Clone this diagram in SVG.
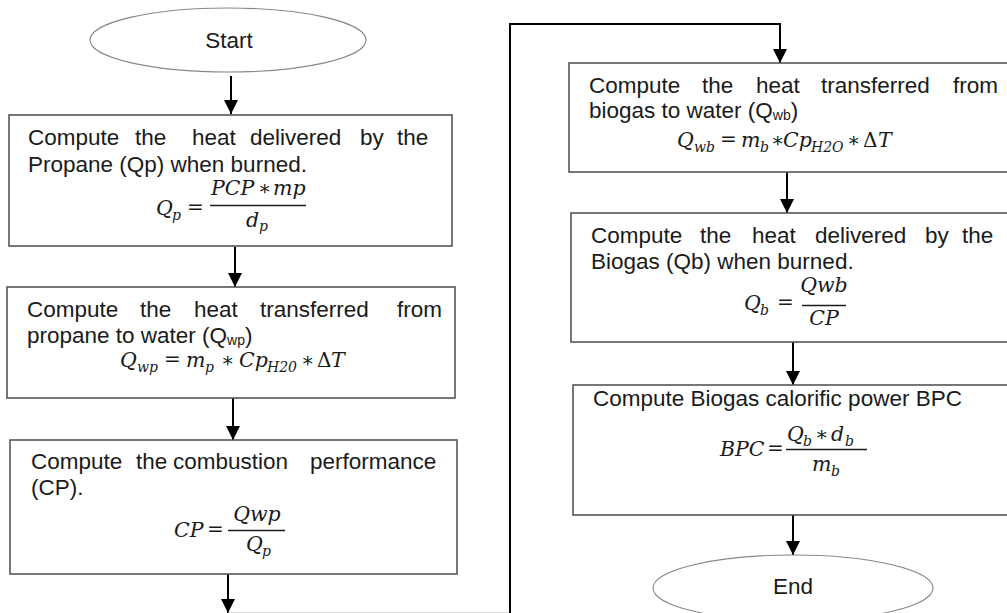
<svg xmlns="http://www.w3.org/2000/svg" width="1007" height="613" viewBox="0 0 1007 613">
<defs>
<marker id="ah" markerWidth="14" markerHeight="15" refX="14" refY="7" orient="auto" markerUnits="userSpaceOnUse">
<path d="M0,0 L14,7 L0,14 Z" fill="#000"/>
</marker>
<style>
.box{fill:#fff;stroke:#555;stroke-width:1.6}
.ell{fill:#fff;stroke:#888;stroke-width:1.1}
.t{font-family:"Liberation Sans",Arial,sans-serif;font-size:22.5px;fill:#1a1a1a}
.sub{font-size:14px}
.m{font-family:"DejaVu Serif","Liberation Serif",serif;font-style:italic;font-size:20.5px;fill:#1a1a1a}
.s{font-family:"DejaVu Serif","Liberation Serif",serif;font-style:italic;font-size:14px;fill:#1a1a1a}
.o{font-family:"DejaVu Serif","Liberation Serif",serif;font-style:normal;font-size:20px;fill:#1a1a1a}
.fl{stroke:#1a1a1a;stroke-width:1.3}
.c{fill:none;stroke:#000;stroke-width:2}
</style>
</defs>
<rect width="1007" height="613" fill="#fff"/>

<g id="connectors">
<path class="c" d="M231,76 V114" marker-end="url(#ah)"/>
<path class="c" d="M235,247 V287" marker-end="url(#ah)"/>
<path class="c" d="M233,398 V440" marker-end="url(#ah)"/>
<path class="c" d="M228,574 V613" marker-end="url(#ah)"/>
<path d="M228,613 H510" fill="none" stroke="#ccc" stroke-width="1.5"/>
<path class="c" d="M510,613 V24 H780 V63" marker-end="url(#ah)"/>
<path class="c" d="M787,172 V213" marker-end="url(#ah)"/>
<path class="c" d="M793,342 V385" marker-end="url(#ah)"/>
<path class="c" d="M793,515 V555" marker-end="url(#ah)"/>
</g>

<g id="start">
<ellipse class="ell" cx="228" cy="40" rx="138" ry="32"/>
<text class="t" x="229" y="48" text-anchor="middle">Start</text>
</g>

<g id="box1">
<rect class="box" x="9" y="115" width="443" height="131"/>
<text class="t" y="145"><tspan x="28">Compute</tspan><tspan x="135">the</tspan><tspan x="192">heat</tspan><tspan x="250">delivered</tspan><tspan x="360">by</tspan><tspan x="397">the</tspan></text>
<text class="t" x="28" y="172">Propane (Qp) when burned.</text>
<text class="m" x="156" y="215">Q</text><text class="s" x="172" y="220">p</text>
<text class="o" x="187" y="214">=</text>
<text class="m" x="211" y="195">PCP</text>
<text class="o" x="258" y="195">∗</text>
<text class="m" x="273" y="195">mp</text>
<line class="fl" x1="210" y1="205.5" x2="306" y2="205.5"/>
<text class="m" x="246" y="227">d</text><text class="s" x="259" y="231">p</text>
</g>

<g id="box2">
<rect class="box" x="7" y="287" width="448" height="111"/>
<text class="t" y="317"><tspan x="27">Compute</tspan><tspan x="140">the</tspan><tspan x="194">heat</tspan><tspan x="260">transferred</tspan><tspan x="397">from</tspan></text>
<text class="t" x="27" y="343">propane to water (Q<tspan class="sub" dy="2">wp</tspan><tspan dy="-2">)</tspan></text>
<text class="m" x="120" y="367">Q</text><text class="s" x="137" y="372">wp</text>
<text class="o" x="164" y="366">=</text>
<text class="m" x="186" y="367">m</text><text class="s" x="205" y="372">p</text>
<text class="o" x="221" y="367">∗</text>
<text class="m" x="239" y="367">Cp</text><text class="s" x="267" y="372">H20</text>
<text class="o" x="301" y="367">∗</text>
<text class="o" x="317" y="367">Δ</text><text class="m" x="331" y="367">T</text>
</g>

<g id="box3">
<rect class="box" x="10" y="440" width="447" height="134"/>
<text class="t" y="469"><tspan x="31">Compute</tspan><tspan x="136">the</tspan><tspan x="173">combustion</tspan><tspan x="310">performance</tspan></text>
<text class="t" x="31" y="495">(CP).</text>
<text class="m" x="174" y="537">CP</text>
<text class="o" x="207" y="536">=</text>
<text class="m" x="257" y="521" text-anchor="middle">Qwp</text>
<line class="fl" x1="228" y1="530.5" x2="285" y2="530.5"/>
<text class="m" x="246" y="551">Q</text><text class="s" x="262" y="556">p</text>
</g>

<g id="box4">
<rect class="box" x="569" y="63" width="445" height="109"/>
<text class="t" y="93"><tspan x="589">Compute</tspan><tspan x="702">the</tspan><tspan x="756">heat</tspan><tspan x="821">transferred</tspan><tspan x="953">from</tspan></text>
<text class="t" x="589" y="118">biogas to water (Q<tspan class="sub" dy="2">wb</tspan><tspan dy="-2">)</tspan></text>
<text class="m" x="677" y="147">Q</text><text class="s" x="694" y="152">wb</text>
<text class="o" x="720" y="146">=</text>
<text class="m" x="741" y="147">m</text><text class="s" x="760" y="152">b</text>
<text class="o" x="771" y="147">∗</text>
<text class="m" x="783" y="147">Cp</text><text class="s" x="811" y="152">H2O</text>
<text class="o" x="847" y="147">∗</text>
<text class="o" x="863" y="147">Δ</text><text class="m" x="878" y="147">T</text>
</g>

<g id="box5">
<rect class="box" x="571" y="213" width="445" height="129"/>
<text class="t" y="243"><tspan x="591">Compute</tspan><tspan x="700">the</tspan><tspan x="752">heat</tspan><tspan x="815">delivered</tspan><tspan x="925">by</tspan><tspan x="962">the</tspan></text>
<text class="t" x="591" y="269">Biogas (Qb) when burned.</text>
<text class="m" x="744" y="310">Q</text><text class="s" x="760" y="315">b</text>
<text class="o" x="777" y="309">=</text>
<text class="m" x="824" y="292" text-anchor="middle">Qwb</text>
<line class="fl" x1="802" y1="305.5" x2="846" y2="305.5"/>
<text class="m" x="824" y="325" text-anchor="middle">CP</text>
</g>

<g id="box6">
<rect class="box" x="573" y="385" width="445" height="130"/>
<text class="t" x="593" y="406">Compute Biogas calorific power BPC</text>
<text class="m" x="720" y="456">BPC</text>
<text class="o" x="767" y="455">=</text>
<text class="m" x="787" y="441">Q</text><text class="s" x="803" y="446">b</text>
<text class="o" x="815" y="441">∗</text>
<text class="m" x="831" y="441">d</text><text class="s" x="845" y="446">b</text>
<line class="fl" x1="786" y1="449.5" x2="867" y2="449.5"/>
<text class="m" x="812" y="471">m</text><text class="s" x="831" y="476">b</text>
</g>

<g id="end">
<ellipse class="ell" cx="793" cy="588" rx="140" ry="33"/>
<text class="t" x="793" y="594" text-anchor="middle">End</text>
</g>
</svg>
